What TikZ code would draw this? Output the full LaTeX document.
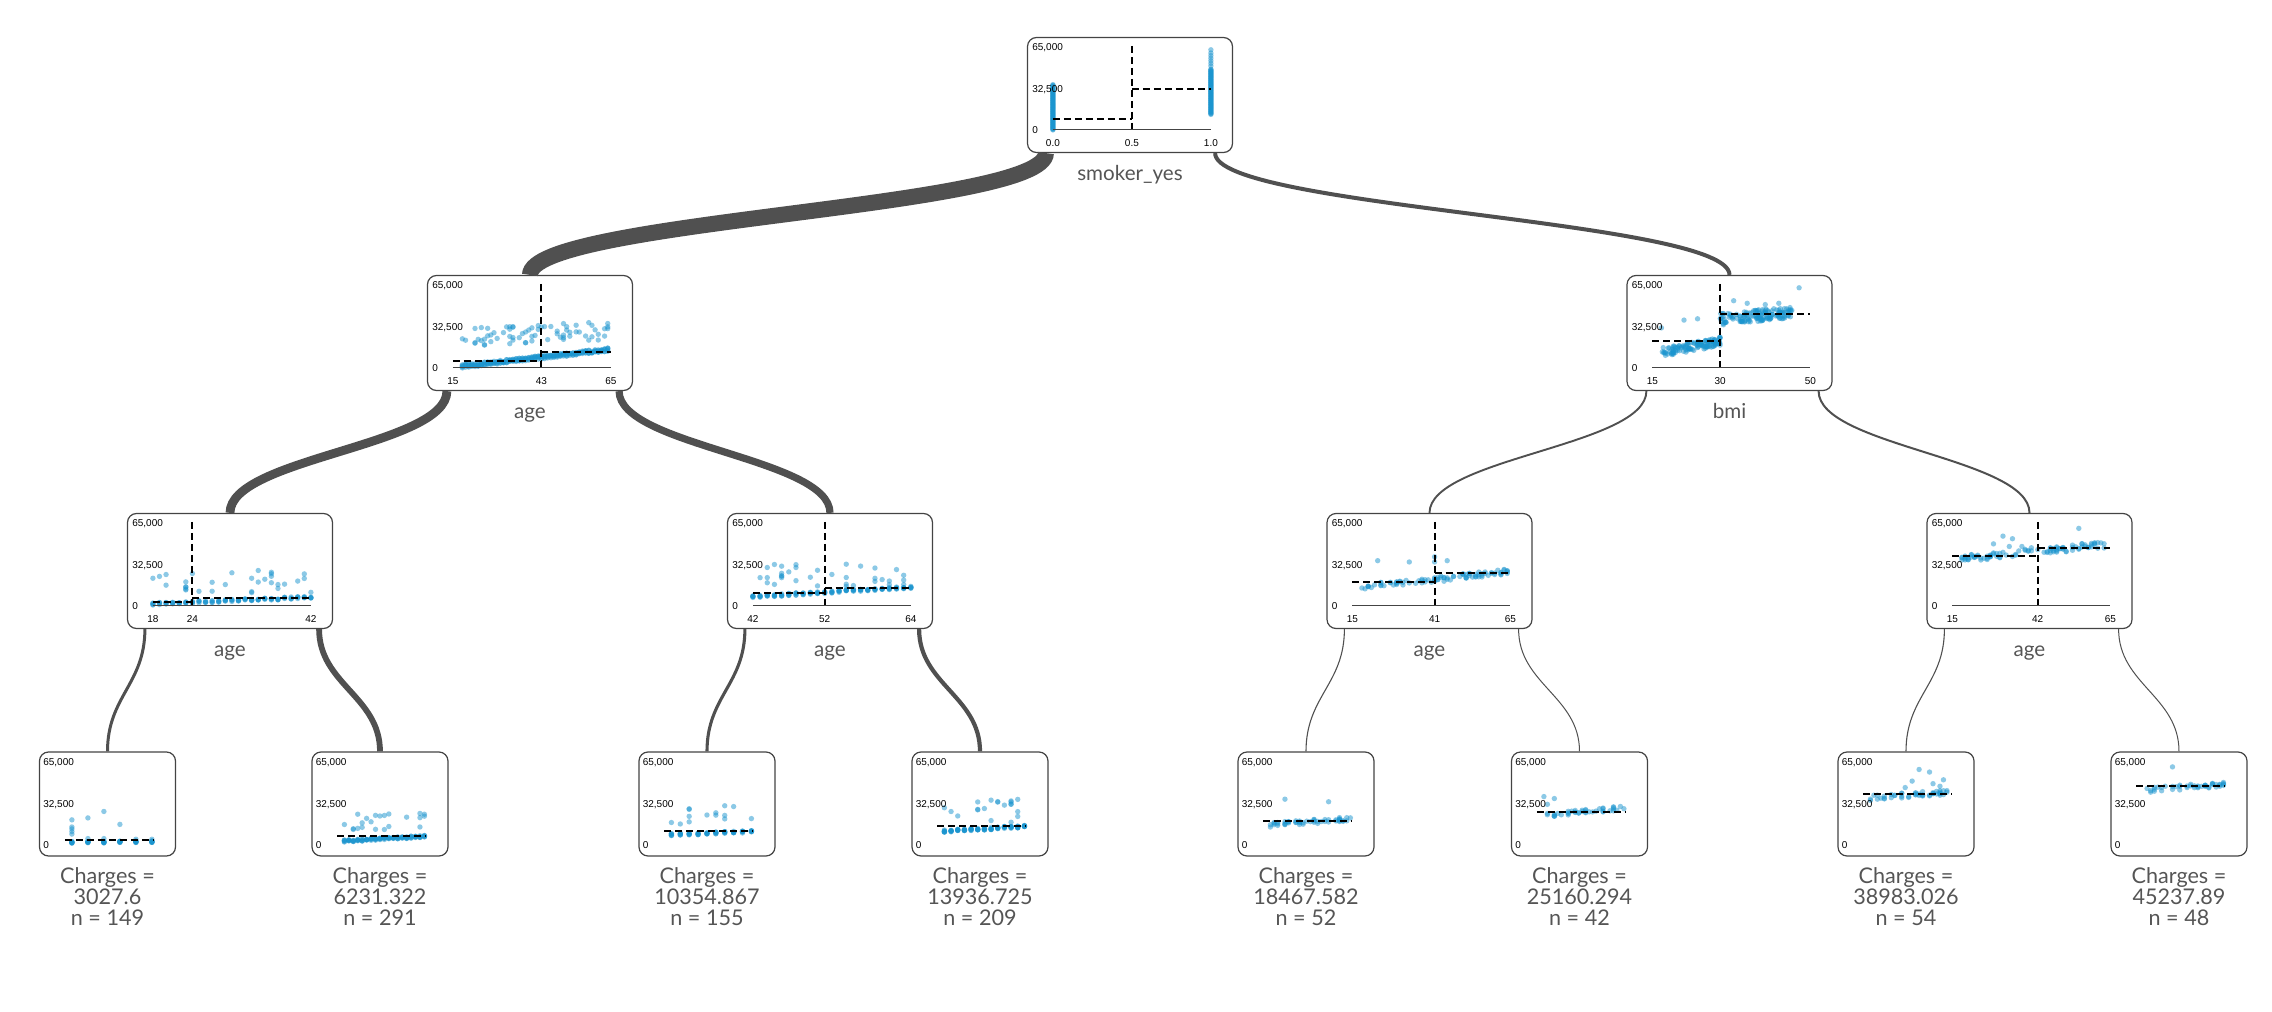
\documentclass[tikz,border=0pt]{standalone}
\usepackage{fontspec}
\setmainfont{Lato}
\newfontfamily\axisfont{Liberation Sans}
\usepackage{tikz}
\usetikzlibrary{positioning,calc}
\definecolor{dtblue}{HTML}{1B95CF}
\definecolor{dtgray}{HTML}{444444}
\definecolor{dttext}{HTML}{555555}
\definecolor{dtedge}{HTML}{505050}
\newcommand{\yk}[1]{93-1.292*(#1)}
\newcommand{\plotDot}[2]{\fill[dataDot] ({26+((#1)-\xlo)*\xf},{\yk{#2}}) circle (2.7)}
\newcommand{\yTicks}[2]{%
  \node[tickLabel, anchor=base west] (#1-y1) at (#2,13.6) {65,000};
  \node[tickLabel, anchor=base west] (#1-y2) at (#2,55.6) {32,500};
  \node[tickLabel, anchor=base west] (#1-y3) at (#2,96.6) {0};}
\newcommand{\xTicks}[2]{%
  \foreach \tx/\xx [count=\ii] in {#2}
    \node[tickLabel, anchor=base] (#1-x\ii) at (\xx,109.6) {\tx};}
\newcommand{\splitLines}[3]{%
  \draw[meanLine] (26,{\yk{#2}}) -- (#1,{\yk{#2}});
  \draw[meanLine] (#1,{\yk{65}}) -- (#1,{\yk{1}});
  \draw[meanLine] (#1,{\yk{#3}}) -- (184,{\yk{#3}});
  \draw[axisLine] (26,93) -- (184,93);}
\tikzset{
  splitBox/.style={draw=dtgray, fill=white, line width=0.6pt, rounded corners=4.5pt, minimum width=102.5pt, minimum height=57.5pt, inner sep=0pt},
  leafBox/.style={splitBox, minimum width=68pt, minimum height=52pt},
  splitLabel/.style={font=\fontsize{10.3}{10.5}\selectfont, text=dttext, inner sep=0pt, text height=7.4pt, text depth=2pt},
  leafLabel/.style={font=\fontsize{10.8}{10.5}\selectfont, text=dttext, inner sep=0pt, align=center},
  tickLabel/.style={font=\axisfont\fontsize{5}{6}\selectfont, inner sep=0pt},
  dataDot/.style={fill=dtblue, fill opacity=0.5},
  meanLine/.style={draw=black, line width=1pt, dash pattern=on 3.5pt off 2pt},
  axisLine/.style={draw=dtgray, line width=0.5pt},
  treeEdge/.style={draw=dtedge}
}

\begin{document}
\begin{tikzpicture}[x=0.5pt,y=-0.5pt]
  \useasboundingbox (0,0) rectangle (2272,1012);
  \pgfmathsetseed{12}
  % tree nodes
  \node[splitBox] (root) at (1130,95) {};
  \node[splitBox] (age1) at (530,333) {};
  \node[splitBox] (bmi1) at (1729.5,333) {};
  \node[splitBox] (age2a) at (230,571) {};
  \node[splitBox] (age2b) at (830,571) {};
  \node[splitBox] (age2c) at (1429.5,571) {};
  \node[splitBox] (age2d) at (2029.5,571) {};
  \foreach \nm/\x in {leafa/107.5, leafb/380, leafc/707, leafd/980, leafe/1306, leaff/1579.5, leafg/1906, leafh/2179}
    \node[leafBox] (\nm) at (\x,804) {};

  \node[splitLabel, below=6.3pt of root] (root-lab) {smoker\_yes};
  \node[splitLabel, below=6.3pt of age1] (age1-lab) {age};
  \node[splitLabel, below=6.3pt of bmi1] (bmi1-lab) {bmi};
  \foreach \nm in {age2a,age2b,age2c,age2d}
    \node[splitLabel, below=6.3pt of \nm] (\nm-lab) {age};
  \foreach \nm/\val/\cnt in {leafa/3027.6/149, leafb/6231.322/291, leafc/10354.867/155, leafd/13936.725/209, leafe/18467.582/52, leaff/25160.294/42, leafg/38983.026/54, leafh/45237.89/48}
    \node[leafLabel, below=5.4pt of \nm] (\nm-lab) {Charges =\\\val\\n = \cnt};

  % edges, width ~ samples
  \foreach \pa/\ch/\an/\dx/\lw in {root/age1/south west/9.5pt/8pt, root/bmi1/south east/-9pt/2pt,
      age1/age2a/south west/10pt/4.4pt, age1/age2b/south east/-7pt/3.6pt,
      bmi1/age2c/south west/10pt/0.95pt, bmi1/age2d/south east/-7pt/1pt,
      age2a/leafa/south west/9pt/1.5pt, age2a/leafb/south east/-7pt/2.9pt,
      age2b/leafc/south west/9pt/1.55pt, age2b/leafd/south east/-7pt/2.1pt,
      age2c/leafe/south west/9pt/0.55pt, age2c/leaff/south east/-7pt/0.5pt,
      age2d/leafg/south west/9pt/0.55pt, age2d/leafh/south east/-7pt/0.5pt}
    \draw[treeEdge, line width=\lw] ([xshift=\dx]\pa.\an) .. controls +(0,55) and +(0,-55) .. (\ch.north);

  % smoker_yes
  \begin{scope}[shift={(root.north west)}]
    \def\xlo{0}\def\xf{158}
    \foreach \kk in {0,...,70} {\plotDot{0}{0.5*\kk};}
    \foreach \kk in {0,...,70} {\plotDot{1}{12+0.5*\kk};}
    \foreach \vv in {49.5,51.5,53.5,55.5,57.5,59.5,62} {\plotDot{1}{\vv};}
    \splitLines{105}{8.4}{32}
    \yTicks{root}{5}
    \xTicks{root}{0.0/26, 0.5/105, 1.0/184}
  \end{scope}

  % age, non smokers
  \begin{scope}[shift={(age1.north west)}]
    \def\xlo{15}\def\xf{3.16}
    \foreach \ag in {18,...,64} {\foreach \jj in {1,...,5} {\plotDot{\ag}{1.2+(\ag-18)*0.28+1.3*rand};}}
    \foreach \jj in {1,...,70} {\pgfmathsetmacro\ag{int(18+47*rnd)}\plotDot{\ag}{16+0.12*(\ag-18)+15*rnd};}
    \splitLines{114.5}{5.2}{12.4}
    \yTicks{age1}{5}
    \xTicks{age1}{15/26, 43/114.5, 65/184}
  \end{scope}

  % bmi, smokers
  \begin{scope}[shift={(bmi1.north west)}]
    \def\xlo{15}\def\xf{4.514}
    \foreach \jj in {1,...,120} {\pgfmathsetmacro\bv{17+13*rnd}\plotDot{\bv}{12+0.65*(\bv-17)+3.5*rand};}
    \foreach \jj in {1,...,140} {\pgfmathsetmacro\bv{30+16*rnd}\plotDot{\bv}{37.5+0.35*(\bv-30)+4.5*rand};}
    \foreach \bv/\vv in {17/31, 22/37, 25/38, 33/52, 36/50, 40/49, 43/50, 47.5/62} {\plotDot{\bv}{\vv};}
    \splitLines{93.7}{21}{41.5}
    \yTicks{bmi1}{5}
    \xTicks{bmi1}{15/26, 30/93.7, 50/184}
  \end{scope}

  % age 18-42
  \begin{scope}[shift={(age2a.north west)}]
    \def\xlo{18}\def\xf{6.583}
    \foreach \ag in {18,...,42} {\foreach \jj in {1,...,4} {\plotDot{\ag}{1.6+(\ag-18)*0.21+0.9*rand};}}
    \foreach \jj in {1,...,32} {\pgfmathsetmacro\ag{int(18+25*rnd)}\plotDot{\ag}{10+18*rnd};}
    \splitLines{65.5}{3.0}{6.2}
    \yTicks{age2a}{5}
    \xTicks{age2a}{18/26, 24/65.5, 42/184}
  \end{scope}

  % age 42-64
  \begin{scope}[shift={(age2b.north west)}]
    \def\xlo{42}\def\xf{7.18}
    \foreach \ag in {42,...,64} {\foreach \jj in {1,...,5} {\plotDot{\ag}{7.2+(\ag-42)*0.33+0.9*rand};}}
    \foreach \jj in {1,...,35} {\pgfmathsetmacro\ag{int(43+22*rnd)}\plotDot{\ag}{15+18*rnd};}
    \splitLines{97.8}{10.35}{13.9}
    \yTicks{age2b}{5}
    \xTicks{age2b}{42/26, 52/97.8, 64/184}
  \end{scope}

  % age, smokers bmi < 30
  \begin{scope}[shift={(age2c.north west)}]
    \def\xlo{15}\def\xf{3.16}
    \foreach \jj in {1,...,90} {\pgfmathsetmacro\ag{int(18+47*rnd)}\plotDot{\ag}{14.5+0.26*(\ag-18)+2.2*rand};}
    \foreach \ag/\vv in {23/35, 33/34, 41/38, 41/34, 45/35} {\plotDot{\ag}{\vv};}
    \splitLines{108.2}{18.5}{25.2}
    \yTicks{age2c}{5}
    \xTicks{age2c}{15/26, 41/108.2, 65/184}
  \end{scope}

  % age, smokers bmi >= 30
  \begin{scope}[shift={(age2d.north west)}]
    \def\xlo{15}\def\xf{3.16}
    \foreach \jj in {1,...,95} {\pgfmathsetmacro\ag{int(18+47*rnd)}\plotDot{\ag}{36.5+0.24*(\ag-18)+2.6*rand};}
    \foreach \ag/\vv in {28/48, 31/54, 34/52, 33/46, 37/46, 55/60, 40/45} {\plotDot{\ag}{\vv};}
    \splitLines{111.3}{39}{45.2}
    \yTicks{age2d}{5}
    \xTicks{age2d}{15/26, 42/111.3, 65/184}
  \end{scope}

  % leaves
  \begin{scope}[shift={(leafa.north west)}]
    \def\xlo{17.5625}\def\xf{16}
    \foreach \ag in {18,...,23} {\foreach \jj in {1,...,8} {\plotDot{\ag}{1.6+0.1*(\ag-18)+0.7*rand};}}
    \foreach \ag/\vv in {18/8, 18/10, 18/12, 18/13.5, 18/19, 19/20.5, 20/25.5, 21/15.5, 19/4.5, 20/4.5, 22/4, 23/4} {\plotDot{\ag}{\vv};}
    \draw[meanLine] (26,{\yk{3.03}}) -- (115,{\yk{3.03}});
    \yTicks{leafa}{4}
  \end{scope}
  \begin{scope}[shift={(leafb.north west)}]
    \def\xlo{22.425}\def\xf{4.444}
    \foreach \ag in {24,...,42} {\foreach \jj in {1,...,5} {\plotDot{\ag}{2.6+0.2*(\ag-24)+0.8*rand};}}
    \foreach \jj in {1,...,22} {\pgfmathsetmacro\ag{int(24+19*rnd)}\plotDot{\ag}{10+15*rnd};}
    \draw[meanLine] (26,{\yk{6.23}}) -- (115,{\yk{6.23}});
    \yTicks{leafb}{4}
  \end{scope}
  \begin{scope}[shift={(leafc.north west)}]
    \def\xlo{41.2125}\def\xf{8.889}
    \foreach \ag in {42,...,51} {\foreach \jj in {1,...,6} {\plotDot{\ag}{7.6+0.25*(\ag-42)+0.8*rand};}}
    \foreach \jj in {1,...,14} {\pgfmathsetmacro\ag{int(42+10*rnd)}\plotDot{\ag}{15+16*rnd};}
    \draw[meanLine] (26,{\yk{10.35}}) -- (115,{\yk{10.35}});
    \yTicks{leafc}{4}
  \end{scope}
  \begin{scope}[shift={(leafd.north west)}]
    \def\xlo{50.95}\def\xf{6.667}
    \foreach \ag in {52,...,64} {\foreach \jj in {1,...,7} {\plotDot{\ag}{10.3+0.3*(\ag-52)+0.9*rand};}}
    \foreach \jj in {1,...,20} {\pgfmathsetmacro\ag{int(52+13*rnd)}\plotDot{\ag}{17+18*rnd};}
    \draw[meanLine] (26,{\yk{13.94}}) -- (115,{\yk{13.94}});
    \yTicks{leafd}{4}
  \end{scope}
  \begin{scope}[shift={(leafe.north west)}]
    \def\xlo{16.075}\def\xf{3.636}
    \foreach \jj in {1,...,50} {\pgfmathsetmacro\ag{int(18+23*rnd)}\plotDot{\ag}{15+0.22*(\ag-18)+1.8*rand};}
    \foreach \ag/\vv in {22/35, 34/33} {\plotDot{\ag}{\vv};}
    \draw[meanLine] (26,{\yk{18.47}}) -- (115,{\yk{18.47}});
    \yTicks{leafe}{4}
  \end{scope}
  \begin{scope}[shift={(leaff.north west)}]
    \def\xlo{38.9875}\def\xf{3.478}
    \foreach \jj in {1,...,40} {\pgfmathsetmacro\ag{int(41+24*rnd)}\plotDot{\ag}{22.5+0.25*(\ag-41)+1.8*rand};}
    \foreach \ag/\vv in {41/37, 42/31, 44/35.5} {\plotDot{\ag}{\vv};}
    \draw[meanLine] (26,{\yk{25.16}}) -- (115,{\yk{25.16}});
    \yTicks{leaff}{4}
  \end{scope}
  \begin{scope}[shift={(leafg.north west)}]
    \def\xlo{15.9875}\def\xf{3.478}
    \foreach \jj in {1,...,45} {\pgfmathsetmacro\ag{int(18+24*rnd)}\plotDot{\ag}{36+0.2*(\ag-18)+2*rand};}
    \foreach \ag/\vv in {28/44, 30/49, 32/58, 35/56, 38/45, 36/47, 39/50} {\plotDot{\ag}{\vv};}
    \draw[meanLine] (26,{\yk{38.98}}) -- (115,{\yk{38.98}});
    \yTicks{leafg}{4}
  \end{scope}
  \begin{scope}[shift={(leafh.north west)}]
    \def\xlo{40.075}\def\xf{3.636}
    \foreach \jj in {1,...,44} {\pgfmathsetmacro\ag{int(42+23*rnd)}\plotDot{\ag}{42+0.2*(\ag-42)+2*rand};}
    \foreach \ag/\vv in {50/60} {\plotDot{\ag}{\vv};}
    \draw[meanLine] (26,{\yk{45.24}}) -- (115,{\yk{45.24}});
    \yTicks{leafh}{4}
  \end{scope}
\end{tikzpicture}
\end{document}
